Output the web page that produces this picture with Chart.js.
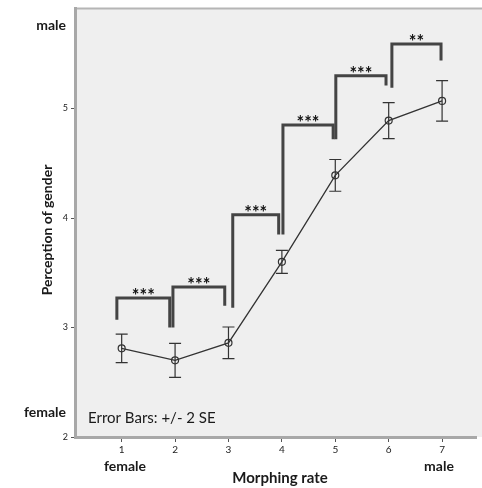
<!DOCTYPE html>
<html><head><meta charset="utf-8">
<script src="https://cdn.jsdelivr.net/npm/chart.js@4.4.1/dist/chart.umd.min.js"></script>
<style>html,body{margin:0;padding:0;background:#fff;overflow:hidden;}canvas{display:block;}</style>
</head><body>
<canvas id="c" width="482" height="488"></canvas>
<script>
// ---- data ----
const categories = [1, 2, 3, 4, 5, 6, 7];
const meanValues = [2.81, 2.70, 2.86, 3.60, 4.39, 4.89, 5.07];
const errorValues = [0.13, 0.155, 0.145, 0.105, 0.145, 0.165, 0.185]; // +/- 2 SE
const yTickValues = [2, 3, 4, 5];
// significance brackets
const bracketXLeft  = [0.91, 1.96, 3.08, 4.02, 5.01, 6.06];
const bracketXRight = [1.90, 2.93, 3.94, 4.96, 5.95, 6.98];
const bracketTop    = [3.27, 3.37, 4.03, 4.85, 5.30, 5.59];
const bracketLeftFoot  = [3.07, 3.00, 3.18, 3.85, 4.72, 5.19];
const bracketRightFoot = [3.00, 3.20, 3.85, 4.72, 5.21, 5.44];
const bracketLabels = ['***', '***', '***', '***', '***', '**'];

const FONT = 'Lato, "Open Sans", sans-serif';

const decor = {
  id: 'decor',
  beforeDraw(chart) {
    const {ctx, chartArea: a} = chart;
    ctx.save();
    ctx.fillStyle = '#efefef';
    ctx.fillRect(a.left, a.top, chart.width - a.left, a.bottom - a.top);
    ctx.strokeStyle = '#b5b5b5';
    ctx.lineWidth = 2;
    ctx.beginPath(); ctx.moveTo(a.left, a.top); ctx.lineTo(chart.width, a.top); ctx.stroke();
    ctx.restore();
  },
  afterDatasetsDraw(chart) {
    const {ctx} = chart;
    const xs = chart.scales.x, ys = chart.scales.y;
    ctx.save();
    ctx.strokeStyle = '#333';
    ctx.lineWidth = 1.2;
    categories.forEach((c, i) => {
      const x = xs.getPixelForValue(c);
      const yt = ys.getPixelForValue(meanValues[i] + errorValues[i]);
      const yb = ys.getPixelForValue(meanValues[i] - errorValues[i]);
      ctx.beginPath();
      ctx.moveTo(x, yt); ctx.lineTo(x, yb);
      ctx.moveTo(x - 6, yt); ctx.lineTo(x + 6, yt);
      ctx.moveTo(x - 6, yb); ctx.lineTo(x + 6, yb);
      ctx.stroke();
    });
    ctx.strokeStyle = '#444';
    ctx.lineWidth = 3;
    ctx.lineJoin = 'miter';
    bracketLabels.forEach((lab, i) => {
      const xl = xs.getPixelForValue(bracketXLeft[i]);
      const xr = xs.getPixelForValue(bracketXRight[i]);
      const yt = ys.getPixelForValue(bracketTop[i]);
      ctx.beginPath();
      ctx.moveTo(xl, ys.getPixelForValue(bracketLeftFoot[i]));
      ctx.lineTo(xl, yt);
      ctx.lineTo(xr, yt);
      ctx.lineTo(xr, ys.getPixelForValue(bracketRightFoot[i]));
      ctx.stroke();
      ctx.fillStyle = '#111';
      ctx.font = 'bold 18px ' + FONT;
      ctx.textAlign = 'center';
      ctx.textBaseline = 'alphabetic';
      ctx.fillText(lab, (xl + xr) / 2, yt + 4);
    });
    ctx.restore();
  },
  afterDraw(chart) {
    const {ctx} = chart;
    ctx.save();
    ctx.fillStyle = '#1a1a1a';
    ctx.textBaseline = 'middle';
    ctx.font = 'bold 14px ' + FONT;
    ctx.textAlign = 'right';
    ctx.fillText('male', 66, 25);
    ctx.fillText('female', 66, 412);
    ctx.textAlign = 'left';
    ctx.font = '15px ' + FONT;
    ctx.fillText('Error Bars: +/- 2 SE', 88, 418);
    ctx.textAlign = 'center';
    ctx.font = 'bold 14px ' + FONT;
    ctx.fillText('female', 125, 466);
    ctx.fillText('male', 439, 466);
    ctx.font = 'bold 15px ' + FONT;
    ctx.fillText('Morphing rate', 280, 478);
    ctx.translate(47, 230);
    ctx.rotate(-Math.PI / 2);
    ctx.font = 'bold 14px ' + FONT;
    ctx.fillText('Perception of gender', 0, 0);
    ctx.restore();
  }
};

const xGridColor = c => (c.tick && categories.includes(c.tick.value)) ? '#555' : 'rgba(0,0,0,0)';
const yGridColor = c => (c.tick && yTickValues.includes(c.tick.value)) ? '#555' : 'rgba(0,0,0,0)';

new Chart(document.getElementById('c'), {
  type: 'scatter',
  data: {
    datasets: [{
      data: categories.map((c, i) => ({x: c, y: meanValues[i]})),
      showLine: true,
      borderColor: '#333',
      borderWidth: 1.3,
      pointRadius: 3.5,
      pointBorderWidth: 1.2,
      pointBorderColor: '#333',
      pointBackgroundColor: 'rgba(0,0,0,0)'
    }]
  },
  options: {
    responsive: false,
    animation: false,
    devicePixelRatio: 1,
    layout: {padding: {top: 8, right: 0, left: 0, bottom: 0}},
    plugins: {legend: {display: false}, tooltip: {enabled: false}},
    scales: {
      x: {
        type: 'linear', min: 0.126, max: 7.65,
        afterBuildTicks: s => { s.ticks = categories.map(v => ({value: v})); },
        afterFit: s => { s.height = 51; s.paddingLeft = 0; s.paddingRight = 0; },
        grid: {drawOnChartArea: false, tickLength: 5, color: xGridColor, lineWidth: 1},
        border: {color: '#a8a8a8', width: 3},
        ticks: {font: {size: 10, family: FONT}, color: '#222', padding: 2, maxRotation: 0}
      },
      y: {
        type: 'linear', min: 2, max: 5.915,
        afterBuildTicks: s => { s.ticks = yTickValues.map(v => ({value: v})); },
        afterFit: s => { s.width = 75; },
        grid: {drawOnChartArea: false, tickLength: 4, color: yGridColor, lineWidth: 1},
        border: {color: '#a8a8a8', width: 3},
        ticks: {font: {size: 9, family: FONT}, color: '#222', padding: 3}
      }
    }
  },
  plugins: [decor]
});
</script>
</body></html>
